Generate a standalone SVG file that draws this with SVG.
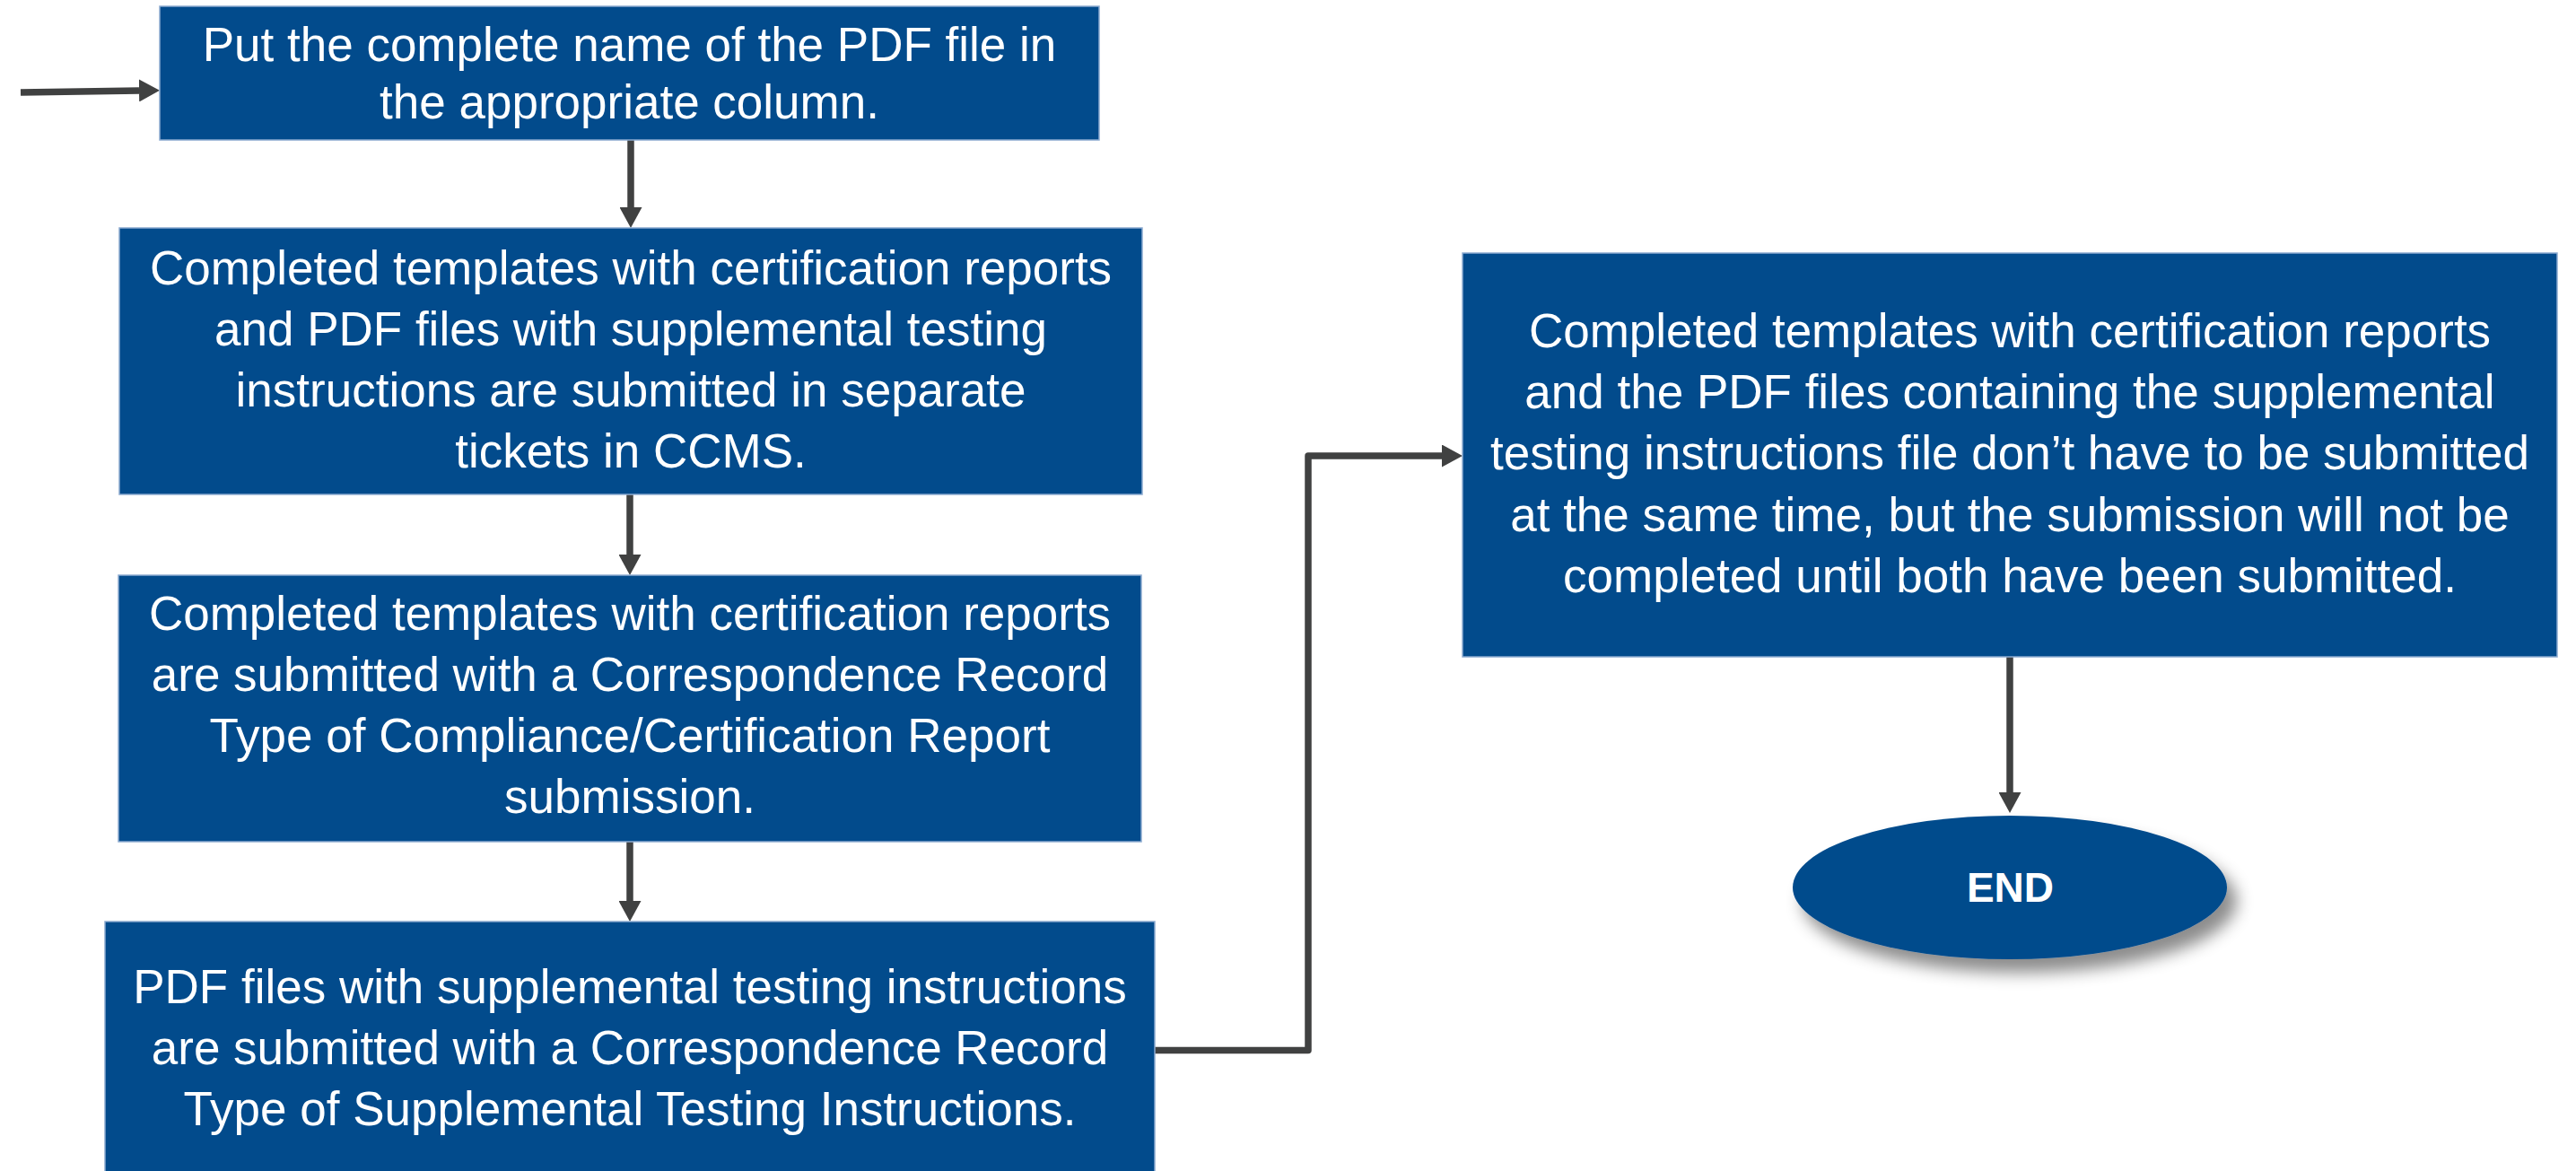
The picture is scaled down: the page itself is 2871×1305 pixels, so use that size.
<svg xmlns="http://www.w3.org/2000/svg" width="2871" height="1305" viewBox="0 0 2871 1305">
  <style>
    .box { fill: #024b8c; stroke: #8caad0; stroke-width: 1.5; }
    .txt { font-family: "Liberation Sans", Arial, sans-serif; font-size: 53px; fill: #ffffff; text-anchor: middle; }
    .end { font-family: "Liberation Sans", Arial, sans-serif; font-size: 46px; font-weight: bold; fill: #ffffff; text-anchor: middle; }
    .wire { fill: none; stroke: #404141; stroke-width: 7.5; stroke-linejoin: round; }
  </style>
  <defs>
    <marker id="head" markerUnits="userSpaceOnUse" markerWidth="24" markerHeight="25" refX="0" refY="12.5" orient="auto">
      <path d="M0,0 L23,12.5 L0,25 z" fill="#404141"/>
    </marker>
    <filter id="shadow" x="-20%" y="-30%" width="150%" height="180%">
      <feDropShadow dx="11" dy="15" stdDeviation="9" flood-color="#000000" flood-opacity="0.45"/>
    </filter>
  </defs>

  <rect width="2871" height="1305" fill="#ffffff"/>

  <!-- connectors -->
  <g id="connectors">
    <path class="wire" d="M23,103 L155,101" marker-end="url(#head)"/>
    <path class="wire" d="M703,156 V231" marker-end="url(#head)"/>
    <path class="wire" d="M702,551 V618" marker-end="url(#head)"/>
    <path class="wire" d="M702,938 V1004" marker-end="url(#head)"/>
    <path class="wire" d="M1287,1170.5 H1458 V508 H1607" marker-end="url(#head)"/>
    <path class="wire" d="M2240,732 V883" marker-end="url(#head)"/>
  </g>

  <g id="node-name">
    <rect class="box" x="178" y="7" width="1047" height="149"/>
    <text class="txt" x="701.5" y="68">Put the complete name of the PDF file in</text>
    <text class="txt" x="701.5" y="132">the appropriate column.</text>
  </g>

  <g id="node-separate">
    <rect class="box" x="133" y="254" width="1140" height="297"/>
    <text class="txt" x="703" y="317">Completed templates with certification reports</text>
    <text class="txt" x="703" y="385">and PDF files with supplemental testing</text>
    <text class="txt" x="703" y="453">instructions are submitted in separate</text>
    <text class="txt" x="703" y="521">tickets in CCMS.</text>
  </g>

  <g id="node-compliance">
    <rect class="box" x="132" y="641" width="1140" height="297"/>
    <text class="txt" x="702" y="702">Completed templates with certification reports</text>
    <text class="txt" x="702" y="770">are submitted with a Correspondence Record</text>
    <text class="txt" x="702" y="838">Type of Compliance/Certification Report</text>
    <text class="txt" x="702" y="906">submission.</text>
  </g>

  <g id="node-supplemental">
    <rect class="box" x="117" y="1027" width="1170" height="300"/>
    <text class="txt" x="702" y="1118">PDF files with supplemental testing instructions</text>
    <text class="txt" x="702" y="1186">are submitted with a Correspondence Record</text>
    <text class="txt" x="702" y="1254">Type of Supplemental Testing Instructions.</text>
  </g>

  <g id="node-timing">
    <rect class="box" x="1630" y="282" width="1220" height="450"/>
    <text class="txt" x="2240" y="387">Completed templates with certification reports</text>
    <text class="txt" x="2240" y="455">and the PDF files containing the supplemental</text>
    <text class="txt" x="2240" y="523">testing instructions file don’t have to be submitted</text>
    <text class="txt" x="2240" y="592">at the same time, but the submission will not be</text>
    <text class="txt" x="2240" y="660">completed until both have been submitted.</text>
  </g>

  <g id="node-end">
    <ellipse cx="2240" cy="989" rx="242" ry="80" fill="#024b8c" filter="url(#shadow)"/>
    <text class="end" x="2240.5" y="1005">END</text>
  </g>
</svg>
